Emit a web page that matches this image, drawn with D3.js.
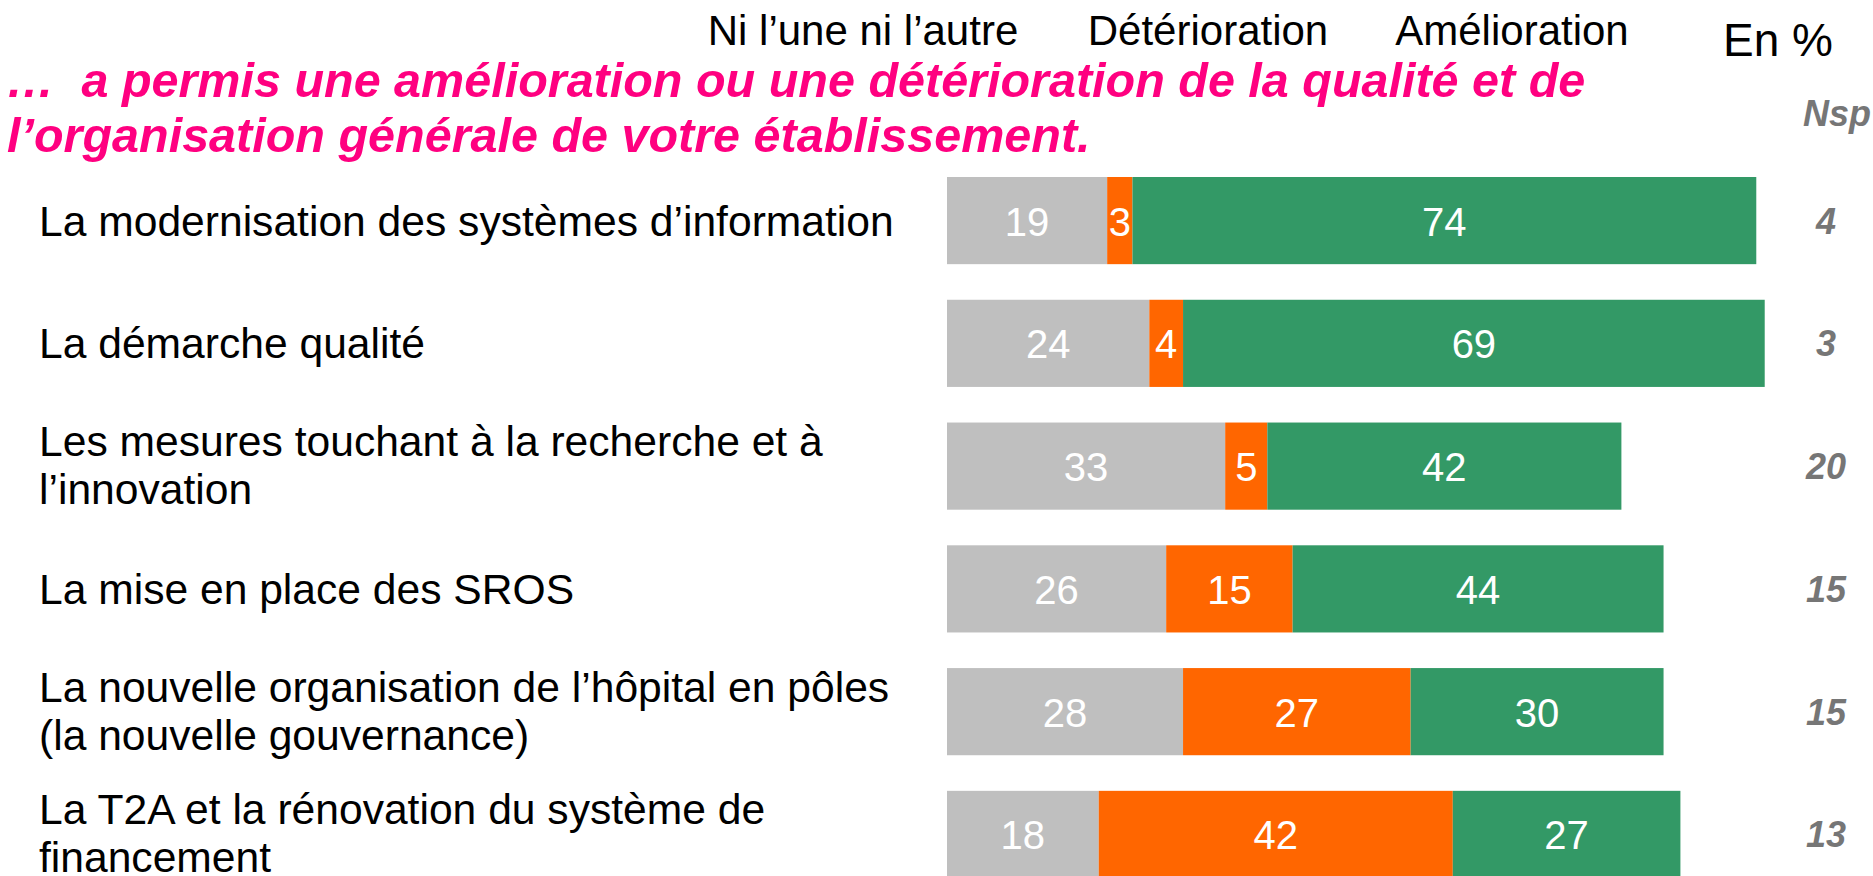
<!DOCTYPE html>
<html>
<head>
<meta charset="utf-8">
<script src="https://cdn.jsdelivr.net/npm/d3@7"></script>
<style>
    body { margin: 0; background: #fff; }
    text { font-family: "Liberation Sans", Arial, sans-serif; }
</style>
</head>
<body>
<div id="chart"></div>
<script>
var categories = [
    ["La modernisation des systèmes d’information"],
    ["La démarche qualité"],
    ["Les mesures touchant à la recherche et à", "l’innovation"],
    ["La mise en place des SROS"],
    ["La nouvelle organisation de l’hôpital en pôles", "(la nouvelle gouvernance)"],
    ["La T2A et la rénovation du système de", "financement"]
];
var niUneNiAutre = [19, 24, 33, 26, 28, 18];
var deterioration = [3, 4, 5, 15, 27, 42];
var amelioration = [74, 69, 42, 44, 30, 27];
var nsp = [4, 3, 20, 15, 15, 13];
var seriesNames = ["Ni l’une ni l’autre", "Détérioration", "Amélioration"];

(function () {
    var width = 1873,
        height = 876;

    var colors = ["#bfbfbf", "#ff6600", "#339966"];

    var svg = d3.select("#chart")
        .append("svg")
        .attr("width", width)
        .attr("height", height);

    var rows = categories.map(function (c, i) {
        return { id: i, label: c, values: [niUneNiAutre[i], deterioration[i], amelioration[i]], nsp: nsp[i] };
    });

    var xScale = d3.scaleLinear().domain([0, 100]).range([947, 1790]);
    var yScale = d3.scaleBand()
        .domain(rows.map(function (d) { return d.id; }))
        .range([177, 878])
        .paddingInner(0.29)
        .paddingOuter(0);

    // titre
    var title = svg.append("text")
        .attr("x", 6)
        .attr("fill", "#ff0080")
        .style("font-size", "48.5px")
        .style("font-weight", "bold")
        .style("font-style", "italic");
    title.append("tspan").attr("x", 6).attr("y", 97)
        .text("…\u00a0 a permis une amélioration ou une détérioration de la qualité et de");
    title.append("tspan").attr("x", 7).attr("y", 152)
        .text("l’organisation générale de votre établissement.");

    // légende (texte seul)
    var legendX = [863, 1208, 1512];
    svg.selectAll(".legend")
        .data(seriesNames)
        .enter().append("text")
        .attr("class", "legend")
        .attr("x", function (d, i) { return legendX[i]; })
        .attr("y", 45)
        .attr("text-anchor", "middle")
        .style("font-size", "42px")
        .attr("fill", "#000")
        .text(function (d) { return d; });

    svg.append("text")
        .attr("x", 1723)
        .attr("y", 56)
        .style("font-size", "46px")
        .text("En %");

    svg.append("text")
        .attr("x", 1803)
        .attr("y", 126)
        .style("font-size", "36px")
        .style("font-weight", "bold")
        .style("font-style", "italic")
        .attr("fill", "#767676")
        .text("Nsp");

    var row = svg.selectAll(".row")
        .data(rows)
        .enter().append("g")
        .attr("class", "row")
        .attr("transform", function (d) { return "translate(0," + yScale(d.id) + ")"; });

    var bh = yScale.bandwidth();

    // libellés
    row.append("text")
        .attr("x", 39)
        .style("font-size", "42.6px")
        .attr("fill", "#000")
        .each(function (d) {
            var t = d3.select(this);
            var n = d.label.length;
            d.label.forEach(function (line, i) {
                t.append("tspan")
                    .attr("x", 39)
                    .attr("y", bh / 2 + 15 + (i - (n - 1) / 2) * 48 - (n - 1) * 1)
                    .text(line);
            });
        });

    // segments
    var seg = row.selectAll(".seg")
        .data(function (d) {
            var acc = 0;
            return d.values.map(function (v, i) {
                var s = { start: acc, value: v, k: i };
                acc += v;
                return s;
            });
        })
        .enter().append("g")
        .attr("class", "seg");

    seg.append("rect")
        .attr("x", function (d) { return xScale(d.start); })
        .attr("y", 0)
        .attr("width", function (d) { return xScale(d.start + d.value) - xScale(d.start); })
        .attr("height", bh)
        .attr("fill", function (d) { return colors[d.k]; });

    seg.append("text")
        .attr("x", function (d) { return xScale(d.start + d.value / 2); })
        .attr("y", bh / 2 + 15)
        .attr("text-anchor", "middle")
        .style("font-size", "40px")
        .attr("fill", "#fff")
        .text(function (d) { return d.value; });

    // Nsp
    row.append("text")
        .attr("x", 1826)
        .attr("y", bh / 2 + 13)
        .attr("text-anchor", "middle")
        .style("font-size", "36px")
        .style("font-weight", "bold")
        .style("font-style", "italic")
        .attr("fill", "#767676")
        .text(function (d) { return d.nsp; });
})();
</script>
</body>
</html>
